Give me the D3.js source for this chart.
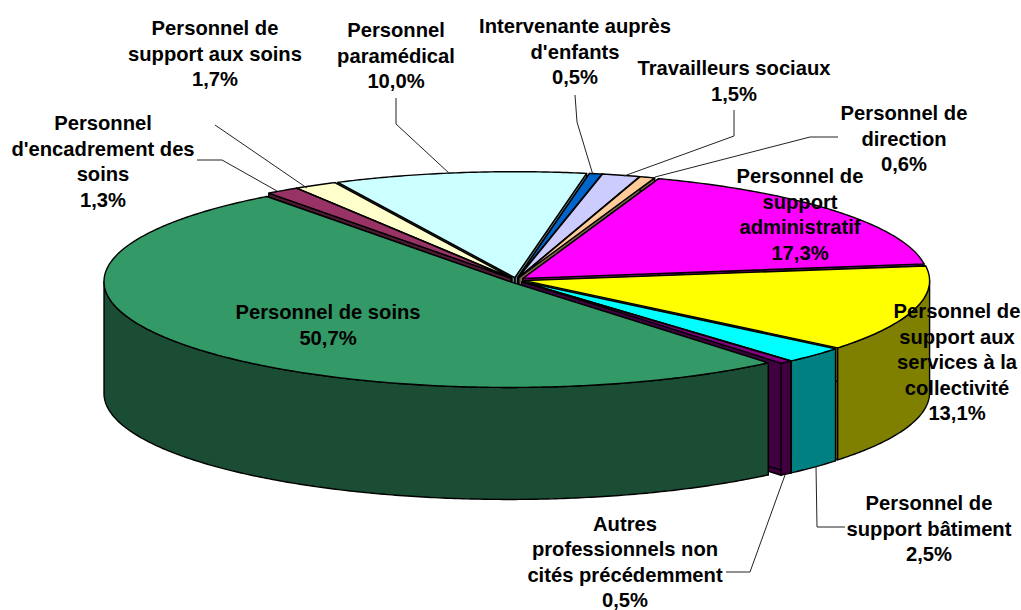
<!DOCTYPE html>
<html><head><meta charset="utf-8">
<script src="https://cdn.jsdelivr.net/npm/d3@7"></script>
<style>html,body{margin:0;background:#fff}svg{display:block}text{font-family:"Liberation Sans",Arial,sans-serif;font-weight:700;font-size:20.2px;fill:#000;text-anchor:middle}</style>
</head><body><svg id="c" width="1021" height="610"></svg>
<script>
const categories=["Personnel de support administratif","Personnel de support aux services à la collectivité","Personnel de support bâtiment","Autres professionnels non cités précédemment","Personnel de soins","Personnel d'encadrement des soins","Personnel de support aux soins","Personnel paramédical","Intervenante auprès d'enfants","Travailleurs sociaux","Personnel de direction"];
const values=[17.3,13.1,2.5,0.5,50.7,1.3,1.7,10.0,0.5,1.5,0.6];
const topColors=["#ff00ff","#ffff00","#00ffff","#800080","#339966","#993366","#ffffcc","#ccffff","#0066cc","#ccccff","#ffcc99"];
const sideColors=["#800080","#808000","#008080","#400040","#1a4d33","#4d1a33","#808066","#668080","#003366","#666680","#806650"];
const drawOrder=[7,8,9,10,0,1,2,3,6,5,4];
const labelLines=[["Personnel de","support","administratif","17,3%"],["Personnel de","support aux","services à la","collectivité","13,1%"],["Personnel de","support bâtiment","2,5%"],["Autres","professionnels non","cités précédemment","0,5%"],["Personnel de soins","50,7%"],["Personnel","d'encadrement des","soins","1,3%"],["Personnel de","support aux soins","1,7%"],["Personnel","paramédical","10,0%"],["Intervenante auprès","d'enfants","0,5%"],["Travailleurs sociaux","1,5%"],["Personnel de","direction","0,6%"]];
const labelAnchors=[[800,183],[957,318],[929,510],[625,530.5],[328,319],[103,130],[215,35],[396,37],[575,33],[734,75],[904,120]];
const leaders=[null,null,[[845,527],[817,527],[816,466]],[[726,572],[750,572],[785,475]],null,[[197,160],[222,160],[277,191]],[[215,125],[307,188]],[[396,98],[396,124],[450,174]],[[575,95],[577,122],[593,175]],[[734,110],[734,136],[624,176]],[[838,137],[810,137],[655,177]]];

const cx=516,cy=280,rx=405,ry=106,depth=112,explode=0.022,start=19.6*Math.PI/180,lineStep=25.5;
const sx=d3.scaleLinear().domain([-1,1]).range([cx-rx,cx+rx]);
const sy=d3.scaleLinear().domain([-1,1]).range([cy-ry,cy+ry]);
const svg=d3.select("#c");
const arcs=d3.pie().sort(null).startAngle(start).endAngle(start+2*Math.PI)(values);
const line=d3.line();
const pt=(a,r,m,z=0)=>[sx(r*Math.sin(a)+explode*Math.sin(m)),sy(-r*Math.cos(a)-explode*Math.cos(m))+z];
const sample=(a0,a1)=>{const n=Math.max(2,Math.ceil(Math.abs(a1-a0)/0.01));return d3.range(n+1).map(i=>a0+(a1-a0)*i/n);};
const front=(a0,a1)=>{const out=[];const t=2*Math.PI;
  for(const k of [0,1]){const lo=Math.max(a0,Math.PI/2+k*t),hi=Math.min(a1,1.5*Math.PI+k*t);if(hi>lo)out.push([lo,hi]);}
  return out;};
const sw=1.4;
drawOrder.forEach(i=>{const d=arcs[i],a0=d.startAngle,a1=d.endAngle,m=(a0+a1)/2,g=svg.append("g");
  const wall=pts=>g.append("path").attr("d",line(pts)+"Z").attr("fill",sideColors[i]).attr("stroke","#000").attr("stroke-width",sw).attr("stroke-linejoin","round");
  [a1,a0].forEach(a=>wall([pt(a,0,m),pt(a,1,m),pt(a,1,m,depth),pt(a,0,m,depth)]));
  front(a0,a1).forEach(([lo,hi])=>{const s=sample(lo,hi);wall(s.map(a=>pt(a,1,m)).concat(s.slice().reverse().map(a=>pt(a,1,m,depth))));});
  const top=[pt(a0,0,m)].concat(sample(a0,a1).map(a=>pt(a,1,m)));
  g.append("path").attr("d",line(top)+"Z").attr("fill",topColors[i]).attr("stroke","#000").attr("stroke-width",sw).attr("stroke-linejoin","round");
});
leaders.forEach(l=>{if(l)svg.append("path").attr("d",line(l)).attr("fill","none").attr("stroke","#222").attr("stroke-width",1);});
labelLines.forEach((ls,i)=>{const t=svg.append("text").attr("aria-label",categories[i]);
  ls.forEach((s,j)=>t.append("tspan").attr("x",labelAnchors[i][0]).attr("y",labelAnchors[i][1]+j*lineStep).text(s));});
</script></body></html>
